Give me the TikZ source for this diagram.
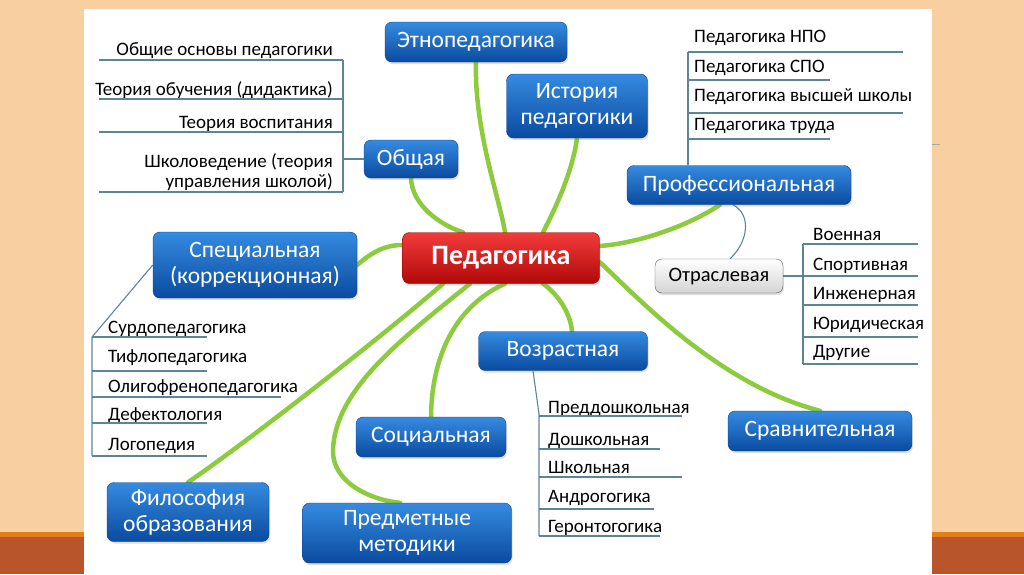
\documentclass[tikz,border=0pt]{standalone}
\usepackage{fontspec}
\setmainfont{Carlito}
\usetikzlibrary{shadows,backgrounds}
\definecolor{peach}{HTML}{F7CFA0}
\definecolor{bandline}{HTML}{E27E1C}
\definecolor{band}{HTML}{B9552B}
\definecolor{boxtop}{HTML}{358BE0}
\definecolor{boxbot}{HTML}{0A4BA0}
\definecolor{boxedge}{HTML}{0A3F85}
\definecolor{redtop}{HTML}{F23C3C}
\definecolor{redbot}{HTML}{B20808}
\definecolor{rededge}{HTML}{8A0000}
\definecolor{leafgreen}{HTML}{8CCB3E}
\definecolor{twigcol}{HTML}{5E8595}
\tikzset{
  topic/.style={rounded corners=7pt, draw=boxedge, top color=boxtop, bottom color=boxbot,
    text=white, align=center, inner sep=2pt, font=\fontsize{23.5}{26}\selectfont,
    drop shadow={shadow xshift=1pt, shadow yshift=-2pt, opacity=.25}},
  root/.style={topic, draw=rededge, top color=redtop, bottom color=redbot,
    font=\fontsize{28}{30}\selectfont\bfseries},
  subtopic/.style={topic, draw=black!65, top color=white, bottom color=black!17,
    text=black, font=\fontsize{20.5}{22}\selectfont},
  leaf/.style={inner sep=0pt, font=\fontsize{19}{20}\selectfont},
  branch/.style={leafgreen, line width=4.5pt, line cap=round},
  twig/.style={twigcol, line width=1.1pt}
}
\begin{document}
\begin{tikzpicture}[x=1pt,y=-1pt]
  \useasboundingbox (0,0) rectangle (1024,574);

  % Topics
  \node[root, minimum width=197pt, minimum height=51pt] (ped) at (501,258) {Педагогика};
  \node[topic, minimum width=182pt, minimum height=40pt] (ethno) at (476,42) {Этнопедагогика};
  \node[topic, minimum width=141pt, minimum height=64pt] (hist) at (577,106) {История\\педагогики};
  \node[topic, minimum width=94pt, minimum height=38pt] (gen) at (411,159) {Общая};
  \node[topic, minimum width=224pt, minimum height=39pt] (prof) at (739,185) {Профессиональная};
  \node[topic, minimum width=204pt, minimum height=66pt] (spec) at (255,265) {Специальная\\(коррекционная)};
  \node[subtopic, minimum width=128pt, minimum height=34pt] (otr) at (719,276) {Отраслевая};
  \node[topic, minimum width=169pt, minimum height=39pt] (age) at (563,351) {Возрастная};
  \node[topic, minimum width=150pt, minimum height=40pt] (soc) at (431,437) {Социальная};
  \node[topic, minimum width=184pt, minimum height=40pt] (comp) at (820,431) {Сравнительная};
  \node[topic, minimum width=162pt, minimum height=59pt] (phil) at (188,512) {Философия\\образования};
  \node[topic, minimum width=209pt, minimum height=60pt] (subj) at (407,533) {Предметные\\методики};

  \begin{pgfonlayer}{background}
    % Slide
    \fill[peach] (0,0) rectangle (1024,574);
    \fill[bandline] (0,532) rectangle (1024,537);
    \fill[band] (0,537) rectangle (1024,574);
    \fill[white] (84,9) rectangle (932,574);
    \draw[black!35, line width=0.6pt] (932,144) -- (940,144);
    % Branches
    \draw[branch] (ethno.south) .. controls (474,130) and (500,200) .. ([xshift=4pt]ped.north);
    \draw[branch] (hist.south) .. controls (572,175) and (552,215) .. ([xshift=42pt]ped.north);
    \draw[branch] (gen.south) .. controls (412,205) and (440,225) .. ([xshift=-38pt]ped.north);
    \draw[branch] ([xshift=-19pt]prof.south) .. controls (690,225) and (640,243) .. ([yshift=12pt]ped.east);
    \draw[branch] (spec.east) .. controls (372,252) and (385,245) .. ([yshift=13pt]ped.west);
    \draw[branch] ([yshift=-4pt]ped.east) .. controls (640,300) and (720,385) .. (comp.north);
    \draw[branch] ([xshift=42pt]ped.south) .. controls (555,292) and (570,310) .. ([xshift=9pt]age.north);
    \draw[branch] ([xshift=4pt]ped.south) .. controls (468,300) and (432,340) .. (soc.north);
    \draw[branch] ([xshift=-58pt]ped.south) .. controls (390,330) and (250,440) .. (phil.north);
    \draw[branch] ([xshift=-31pt]ped.south) .. controls (400,340) and (335,390) .. (333,450)
      .. controls (332,482) and (370,500) .. ([xshift=-7pt]subj.north);
    \draw[twig] ([xshift=-6pt]prof.south) .. controls (752,215) and (748,242) .. ([xshift=11pt]otr.north);
  \end{pgfonlayer}

  % Общая
  \coordinate (gspine) at (343,60);
  \draw[twig] (gen.west) -- (gen.west -| gspine);
  \draw[twig] (gspine) -- (343,192);
  \foreach \txt/\y/\l [count=\i] in {Общие основы педагогики/55/60,
      Теория обучения (дидактика)/95/99, Теория воспитания/128/132}{
    \node[leaf, anchor=base east] (gen-\i) at (333,\y) {\txt};
    \draw[twig] (99,\l) -- (343,\l);
  }
  \node[leaf, anchor=base east, align=right] (gen-4) at (333,187) {Школоведение (теория\\управления школой)};
  \draw[twig] (99,192) -- (343,192);

  % Профессиональная
  \coordinate (pspine) at (688,52);
  \draw[twig] (prof.north -| pspine) -- (pspine);
  \foreach \txt/\y/\l/\e [count=\i] in {Педагогика НПО/42/52/903, Педагогика СПО/72/80/830,
      Педагогика высшей школы/101/113/903, Педагогика труда/130/139/830}{
    \node[leaf, anchor=base west] (prof-\i) at (694,\y) {\txt};
    \draw[twig] (688,\l) -- (\e,\l);
  }

  % Отраслевая
  \coordinate (ospine) at (803,244);
  \draw[twig] (otr.east) -- (otr.east -| ospine);
  \draw[twig] (ospine) -- (803,364);
  \foreach \txt/\y/\l [count=\i] in {Военная/240/244, Спортивная/270/276, Инженерная/299/305,
      Юридическая/329/337, Другие/357/364}{
    \node[leaf, anchor=base west] (otr-\i) at (813,\y) {\txt};
    \draw[twig] (803,\l) -- (918,\l);
  }

  % Специальная
  \draw[twig] (spec.west) -- (92,337) -- (92,456);
  \foreach \txt/\y/\l/\e [count=\i] in {Сурдопедагогика/333/337/207, Тифлопедагогика/362/371/207,
      Олигофренопедагогика/392/397/281, Дефектология/420/423/207, Логопедия/450/456/207}{
    \node[leaf, anchor=base west] (spec-\i) at (108,\y) {\txt};
    \draw[twig] (92,\l) -- (\e,\l);
  }

  % Возрастная
  \draw[twig] ([xshift=-30pt]age.south) -- (539,414) -- (539,536);
  \foreach \txt/\y/\l/\e [count=\i] in {Преддошкольная/413/416/682, Дошкольная/445/449/660,
      Школьная/473/477/682, Андрогогика/502/509/654, Геронтогогика/532/536/660}{
    \node[leaf, anchor=base west] (age-\i) at (548,\y) {\txt};
    \draw[twig] (539,\l) -- (\e,\l);
  }
\end{tikzpicture}
\end{document}
